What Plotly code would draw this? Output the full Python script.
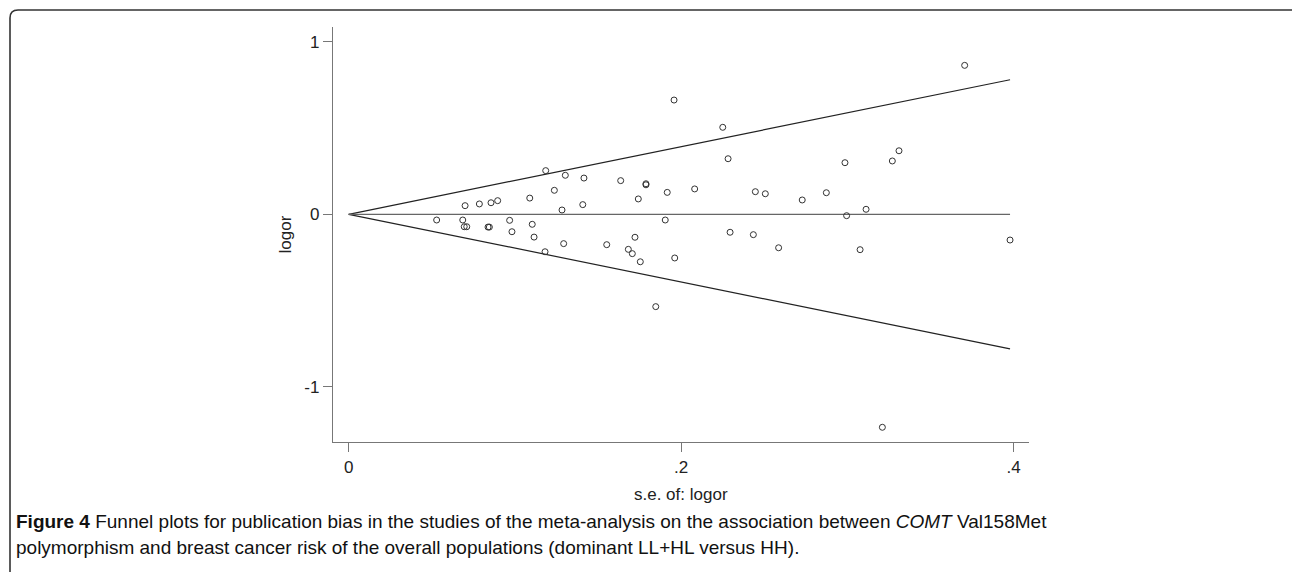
import plotly.graph_objects as go

# Study standard errors and log odds ratios
se = [0.0529, 0.0700, 0.0686, 0.0695, 0.0710, 0.0786, 0.0838, 0.0846, 0.0856, 0.0896,
      0.0968, 0.0982, 0.1089, 0.1104, 0.1115, 0.1185, 0.1181, 0.1237, 0.1283, 0.1293,
      0.1303, 0.1408, 0.1415, 0.1552, 0.1636, 0.1682, 0.1706, 0.1722, 0.1742, 0.1754,
      0.1788, 0.1788, 0.1904, 0.1916, 0.1957, 0.1961, 0.2081, 0.2250, 0.2282, 0.2294,
      0.2434, 0.2446, 0.2506, 0.2586, 0.2728, 0.2873, 0.2985, 0.2995, 0.3076, 0.3112,
      0.3270, 0.3310, 0.3705, 0.3978, 0.3210, 0.1847]
logor = [-0.033, 0.050, -0.033, -0.072, -0.072, 0.060, -0.074, -0.074, 0.067, 0.079,
         -0.035, -0.101, 0.094, -0.058, -0.132, 0.253, -0.217, 0.139, 0.025, -0.170,
         0.226, 0.056, 0.210, -0.176, 0.195, -0.203, -0.228, -0.133, 0.089, -0.275,
         0.177, 0.171, -0.033, 0.127, 0.662, -0.253, 0.147, 0.504, 0.322, -0.104,
         -0.118, 0.131, 0.119, -0.194, 0.083, 0.125, 0.299, -0.008, -0.205, 0.029,
         0.309, 0.368, 0.863, -0.149, -1.234, -0.535]
pooled = 0.0
z = 1.96

x_ticks = [0, 0.2, 0.4]
x_tick_labels = ["0", ".2", ".4"]
y_ticks = [-1, 0, 1]
y_tick_labels = ["-1", "0", "1"]

W, H = 1292, 572
ML, MR, MT, MB = 333, 263, 27, 130
PW = W - ML - MR
PH = H - MT - MB

def px(xp):
    return (xp - ML) / PW

def py(yp):
    return 1 - (yp - MT) / PH

se_max = max(se)
axis_font = dict(family="Liberation Sans, Arial, sans-serif", size=17, color="#222")

fig = go.Figure()
fig.add_trace(go.Scatter(x=[0, se_max], y=[pooled, pooled + z * se_max], mode="lines",
                         line=dict(color="#222", width=1.2), hoverinfo="skip", showlegend=False))
fig.add_trace(go.Scatter(x=[0, se_max], y=[pooled, pooled - z * se_max], mode="lines",
                         line=dict(color="#222", width=1.2), hoverinfo="skip", showlegend=False))
fig.add_trace(go.Scatter(x=[0, se_max], y=[pooled, pooled], mode="lines",
                         line=dict(color="#666", width=1.3), hoverinfo="skip", showlegend=False))
fig.add_trace(go.Scatter(x=se, y=logor, mode="markers",
                         marker=dict(symbol="circle-open", size=6, color="#333",
                                     line=dict(width=1, color="#333")),
                         showlegend=False))

fig.update_layout(
    width=W, height=H,
    margin=dict(l=ML, r=MR, t=MT, b=MB),
    paper_bgcolor="white", plot_bgcolor="white",
    xaxis=dict(range=[(333 - 348.7) / 1662.5, (1029 - 348.7) / 1662.5],
               tickvals=x_ticks, ticktext=x_tick_labels,
               showgrid=False, zeroline=False, showline=True, linecolor="#777", linewidth=1.3,
               ticks="outside", ticklen=9, tickcolor="#777", tickwidth=1.3,
               tickfont=axis_font),
    yaxis=dict(range=[(214.3 - 442) / 172.6, (214.3 - 27) / 172.6],
               tickvals=y_ticks, ticktext=y_tick_labels,
               showgrid=False, zeroline=False, showline=True, linecolor="#777", linewidth=1.3,
               ticks="outside", ticklen=9, tickcolor="#777", tickwidth=1.3,
               tickfont=axis_font),
    font=axis_font,
)

# axis titles
fig.add_annotation(text="s.e. of: logor", xref="paper", yref="paper", x=0.5, y=py(494),
                   showarrow=False, xanchor="center", yanchor="middle", font=axis_font)
fig.add_annotation(text="logor", xref="paper", yref="paper", x=px(285), y=0.5, textangle=-90,
                   showarrow=False, xanchor="center", yanchor="middle", font=axis_font)

# caption
cap_font = dict(family="Liberation Sans Narrow, Arial Narrow, sans-serif", size=19, color="#111")
fig.add_annotation(
    text="<b>Figure 4</b> Funnel plots for publication bias in the studies of the meta-analysis on the association between <i>COMT</i> Val158Met",
    xref="paper", yref="paper", x=px(14), y=py(521), showarrow=False,
    xanchor="left", yanchor="middle", font=cap_font)
fig.add_annotation(
    text="polymorphism and breast cancer risk of the overall populations (dominant LL+HL versus HH).",
    xref="paper", yref="paper", x=px(14), y=py(547), showarrow=False,
    xanchor="left", yanchor="middle", font=cap_font)

# rounded frame (top-left corner visible)
r = 8
fig.add_shape(type="path", xref="paper", yref="paper",
              path=f"M {px(10)},{py(580)} L {px(10)},{py(10 + r)} Q {px(10)},{py(10)} {px(10 + r)},{py(10)} L {px(1300)},{py(10)}",
              line=dict(color="#333", width=1.6))

fig.write_html("out.html")
